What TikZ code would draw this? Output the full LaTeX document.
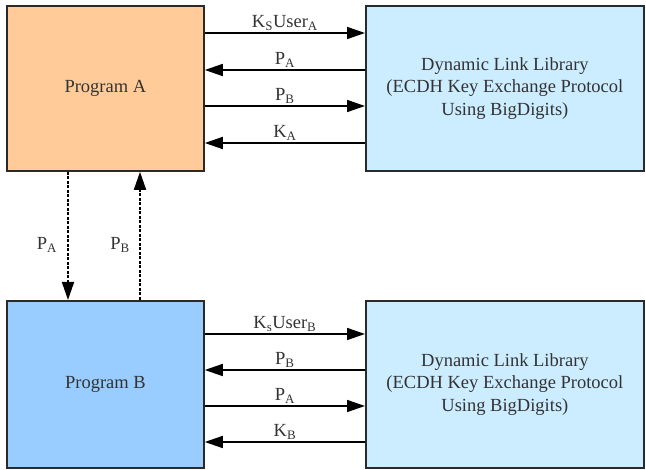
\documentclass[tikz,border=0pt]{standalone}
\usepackage{fontspec}
\setmainfont{Liberation Serif}
\usetikzlibrary{arrows.meta}
\definecolor{progAfill}{HTML}{FFCC99}
\definecolor{progBfill}{HTML}{99CCFF}
\definecolor{dllfill}{HTML}{CCECFF}
\definecolor{edge}{HTML}{2A2A2A}
\definecolor{ink}{HTML}{333333}
\tikzset{
  box/.style={draw=edge, line width=1.8pt, anchor=north west, inner sep=0pt,
    align=center, text=ink, font=\fontsize{18.5}{22.5}\selectfont},
  progbox/.style={box, minimum width=197pt, minimum height=165pt},
  dllbox/.style={box, minimum width=278pt, minimum height=165pt},
  msg/.style={draw=black, line width=1.6pt, -{Triangle[length=18pt,width=12pt]}},
  xfer/.style={msg, dash pattern=on 3pt off 1.5pt},
  lbl/.style={anchor=base, inner sep=0pt, text=ink, font=\fontsize{18.5}{22}\selectfont},
}
\begin{document}
\begin{tikzpicture}[x=1pt, y=-1pt]
\useasboundingbox (0,0) rectangle (646,470);

% program and library boxes
\node[progbox, fill=progAfill] (pa) at (6,5) {Program A};
\node[dllbox, fill=dllfill] (la) at (365,5)
  {Dynamic Link Library\\(ECDH Key Exchange Protocol\\Using BigDigits)};
\node[progbox, fill=progBfill, minimum height=167pt] (pb) at (6,300) {Program B};
\node[dllbox, fill=dllfill, minimum height=167pt] (lb) at (365,300)
  {Dynamic Link Library\\(ECDH Key Exchange Protocol\\Using BigDigits)};

% messages between Program A and its library
\draw[msg] ([yshift=-28pt]pa.north east) -- node[lbl, yshift=5pt] (a1) {K\textsubscript{S}User\textsubscript{A}} ([yshift=-28pt]la.north west);
\draw[msg] ([yshift=-65pt]la.north west) -- node[lbl, yshift=5pt] (a2) {P\textsubscript{A}} ([yshift=-65pt]pa.north east);
\draw[msg] ([yshift=-101pt]pa.north east) -- node[lbl, yshift=5pt] (a3) {P\textsubscript{B}} ([yshift=-101pt]la.north west);
\draw[msg] ([yshift=-138pt]la.north west) -- node[lbl, yshift=5pt] (a4) {K\textsubscript{A}} ([yshift=-138pt]pa.north east);

% messages between Program B and its library
\draw[msg] ([yshift=-34pt]pb.north east) -- node[lbl, yshift=5pt] (b1) {K\textsubscript{s}User\textsubscript{B}} ([yshift=-34pt]lb.north west);
\draw[msg] ([yshift=-70pt]lb.north west) -- node[lbl, yshift=5pt] (b2) {P\textsubscript{B}} ([yshift=-70pt]pb.north east);
\draw[msg] ([yshift=-106pt]pb.north east) -- node[lbl, yshift=5pt] (b3) {P\textsubscript{A}} ([yshift=-106pt]lb.north west);
\draw[msg] ([yshift=-142pt]lb.north west) -- node[lbl, yshift=5pt] (b4) {K\textsubscript{B}} ([yshift=-142pt]pb.north east);

% public keys exchanged between the programs
\draw[xfer] ([xshift=62pt]pa.south west) -- ([xshift=62pt]pb.north west);
\draw[xfer] ([xshift=134pt]pb.north west) -- ([xshift=134pt]pa.south west);
\node[lbl] (ta) at (47,250) {P\textsubscript{A}};
\node[lbl] (tb) at (120,250) {P\textsubscript{B}};
\end{tikzpicture}
\end{document}
